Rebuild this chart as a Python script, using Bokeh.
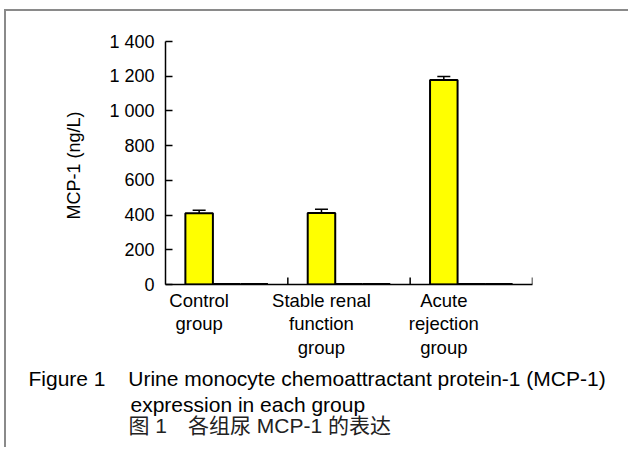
from bokeh.plotting import figure
from bokeh.models import (ColumnDataSource, FixedTicker, Whisker, TeeHead, Title, Range1d)
from bokeh.embed import file_html
from bokeh.resources import INLINE

# ---- data ----
groups = ["Control\ngroup", "Stable renal\nfunction\ngroup", "Acute\nrejection\ngroup"]
mcp1_mean = [410, 412, 1178]
mcp1_err = [18, 22, 20]
series2 = [0, 0, 0]
series3 = [0, 0, 0]
y_ticks = [0, 200, 400, 600, 800, 1000, 1200, 1400]
y_tick_labels = ["0", "200", "400", "600", "800", "1 000", "1 200", "1 400"]
y_title = "MCP-1  (ng/L)"
cap_line1 = "Figure 1\u2003\u200aUrine monocyte chemoattractant protein-1 (MCP-1)"
cap_line2 = "expression in each group"
cap_line3 = "图 1\u2003各组尿 MCP-1 的表达"

FONT = "Liberation Sans"
ZH_FONT = "Liberation Sans, Noto Sans CJK SC"

n = len(groups)
bw = 0.225
gap = (1 - 3 * bw) / 2
x1 = [k + gap + bw / 2 for k in range(n)]
x2 = [k + gap + 1.5 * bw for k in range(n)]
x3 = [k + gap + 2.5 * bw for k in range(n)]
bounds = list(range(1, n + 1))

src = ColumnDataSource(dict(
    x=x1, top=mcp1_mean,
    upper=[m + e for m, e in zip(mcp1_mean, mcp1_err)],
    lower=[m - e for m, e in zip(mcp1_mean, mcp1_err)],
))

W, H = 624, 438
FRAME_H = 243
YMAX = 1400
p = figure(width=W, height=H, output_backend="svg", toolbar_location=None,
           x_range=Range1d(0, n), y_range=Range1d(0, YMAX),
           min_border_left=159, min_border_right=98, min_border_top=30,
           min_border_bottom=165)
p.styles = {"margin-left": "4px", "margin-top": "9px",
            "border-left": "2px solid #8a8a8a", "border-top": "2px solid #8a8a8a"}
p.outline_line_color = None
p.xgrid.visible = False
p.ygrid.visible = False
p.background_fill_color = "white"
p.border_fill_color = "white"

p.vbar(x=x1, top=mcp1_mean, width=bw, fill_color="#FFFF00", line_color="black",
       line_width=2)
p.vbar(x=x2, top=series2, bottom=0, width=bw, fill_color="white", line_color="black",
       line_width=3)
p.vbar(x=x3, top=series3, bottom=0, width=bw, fill_color="white", line_color="black",
       line_width=3)

w = Whisker(source=src, base="x", upper="upper", lower="lower", line_width=1.5,
            upper_head=TeeHead(size=13, line_width=1.5),
            lower_head=TeeHead(size=13, line_width=1.5))
p.add_layout(w)

# category boundary ticks (pointing up, 7 px)
tick_len = 7 * YMAX / FRAME_H
p.segment(x0=bounds, y0=[0] * n, x1=bounds, y1=[tick_len] * n, line_color="black",
          line_width=1.5)

# y axis
ya = p.yaxis[0]
ya.ticker = FixedTicker(ticks=y_ticks)
ya.major_label_overrides = {t: s for t, s in zip(y_ticks, y_tick_labels)}
ya.major_tick_in = 7
ya.major_tick_out = 0
ya.minor_tick_line_color = None
ya.axis_line_width = 1.5
ya.major_tick_line_width = 1.5
ya.major_label_text_font = FONT
ya.major_label_text_font_size = "18px"
ya.major_label_text_color = "black"
ya.major_label_standoff = 11
ya.axis_label = y_title
ya.axis_label_text_font = FONT
ya.axis_label_text_font_size = "18px"
ya.axis_label_text_font_style = "normal"
ya.axis_label_text_color = "black"
ya.axis_label_standoff = 22

# x axis: labels under the bars
xa = p.xaxis[0]
xa.ticker = FixedTicker(ticks=x1)
xa.major_label_overrides = {x: g for x, g in zip(x1, groups)}
xa.major_tick_line_color = None
xa.major_tick_in = 0
xa.major_tick_out = 0
xa.minor_tick_line_color = None
xa.axis_line_width = 1.5
xa.major_label_text_font = FONT
xa.major_label_text_font_size = "18.5px"
xa.major_label_text_line_height = 1.13
xa.major_label_text_color = "black"
xa.major_label_standoff = 5

def cap(txt, offset, standoff, font=FONT, color="black"):
    t = Title(text=txt, align="left", offset=offset, standoff=standoff,
              text_font=font, text_font_size="21px", text_font_style="normal",
              text_color=color, vertical_align="middle")
    p.add_layout(t, "below")

cap(cap_line1, -137, 10)
cap(cap_line2, -35, -8)
cap(cap_line3, -37, -0.5, font=ZH_FONT, color="#222222")

open("out.html", "w").write(file_html(p, INLINE))
